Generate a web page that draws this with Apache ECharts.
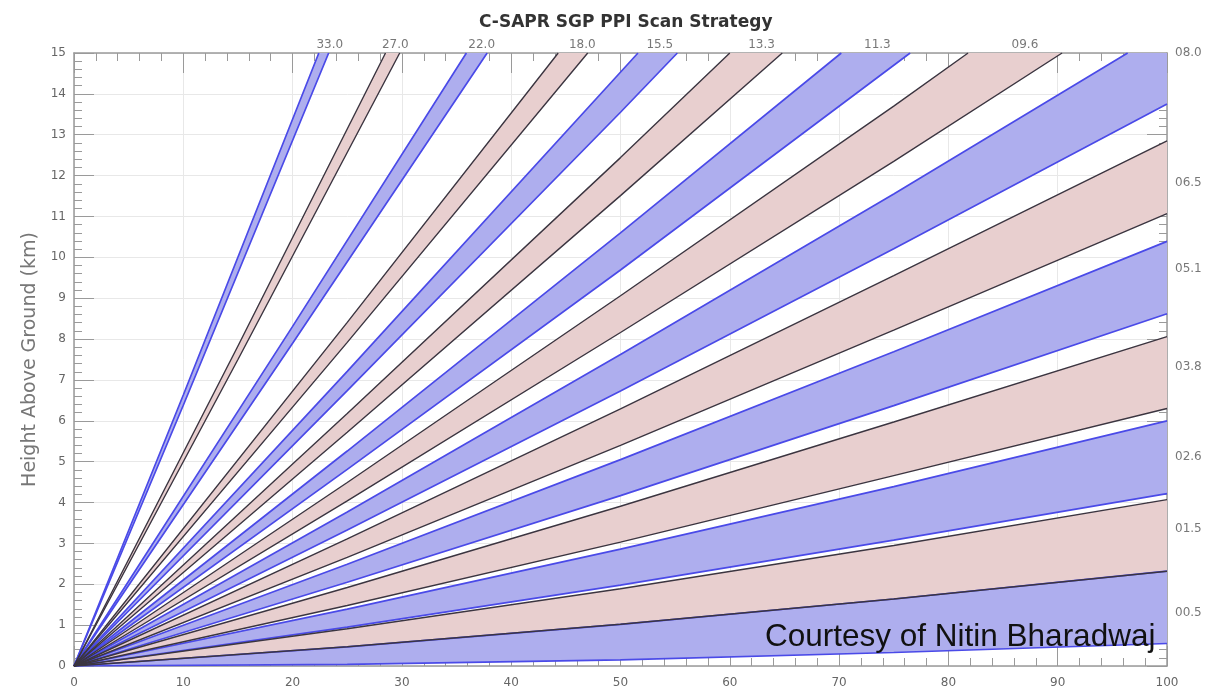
<!DOCTYPE html>
<html>
<head>
<meta charset="utf-8">
<script src="https://cdn.jsdelivr.net/npm/echarts@6/dist/echarts.min.js"></script>
<style>
  html, body { margin: 0; padding: 0; background: #ffffff; }
  #chart { width: 1215px; height: 694px; }
</style>
</head>
<body>
<div id="chart"></div>
<script>
// ---- Data (ground range km, height km) ----
const titleText = 'C-SAPR SGP PPI Scan Strategy';
const yAxisTitle = 'Height Above Ground (km)';
const creditText = 'Courtesy of Nitin Bharadwaj';

const beamLabels = ['00.5','01.5','02.6','03.8','05.1','06.5','08.0','09.6','11.3','13.3','15.5','18.0','22.0','27.0','33.0'];

// lower edge of each beam
const lowerEdges = [
  [[0,0],[25,0.04],[50,0.15],[75,0.33],[100,0.55]],
  [[0,0],[25,0.47],[50,1.02],[75,1.64],[100,2.32]],
  [[0,0],[25,0.95],[50,1.98],[75,3.08],[100,4.22]],
  [[0,0],[25,1.48],[50,3.03],[75,4.66],[100,6.30]],
  [[0,0],[25,2.05],[50,4.17],[75,6.37],[100,8.62]],
  [[0,0],[25,2.66],[50,5.40],[75,8.22],[100,11.07]],
  [[0,0],[25,3.33],[50,6.73],[75,10.21],[100,13.75]],
  [[0,0],[25,4.04],[50,8.16],[75,12.35],[90.4,15]],
  [[0,0],[25,4.81],[50,9.69],[76.5,15]],
  [[0,0],[25,5.72],[50,11.51],[64.8,15]],
  [[0,0],[25,6.74],[50,13.55],[55.2,15]],
  [[0,0],[25,7.92],[47.0,15]],
  [[0,0],[20,7.90],[37.8,15]],
  [[0,0],[15,7.50],[29.8,15]],
  [[0,0],[10,6.38],[23.3,15]]
];

// upper edge of each beam
const upperEdges = [
  [[0,0],[25,0.47],[50,1.02],[75,1.64],[100,2.32]],
  [[0,0],[25,0.91],[50,1.89],[75,2.95],[100,4.07]],
  [[0,0],[25,1.39],[50,2.86],[75,4.39],[100,6.00]],
  [[0,0],[25,1.92],[50,3.91],[75,5.97],[100,8.06]],
  [[0,0],[25,2.49],[50,5.05],[75,7.69],[100,10.39]],
  [[0,0],[25,3.11],[50,6.29],[75,9.55],[100,12.85]],
  [[0,0],[25,3.77],[50,7.62],[75,11.55],[96.4,15]],
  [[0,0],[25,4.49],[50,9.06],[75,13.70],[81.8,15]],
  [[0,0],[25,5.26],[50,10.60],[70.2,15]],
  [[0,0],[25,6.18],[50,12.44],[60.0,15]],
  [[0,0],[25,7.21],[51.6,15]],
  [[0,0],[25,8.41],[44.3,15]],
  [[0,0],[20,8.31],[35.9,15]],
  [[0,0],[15,7.83],[28.5,15]],
  [[0,0],[10,6.63],[22.4,15]]
];

// where each elevation label sits (range km, height km)
const labelAnchors = [
  [100,1.30],[100,3.35],[100,5.12],[100,7.32],[100,9.72],[100,11.83],[100,15],
  [87.0,15],[73.5,15],[62.9,15],[53.6,15],[46.5,15],[37.3,15],[29.4,15],[23.4,15]
];

const xTicks = { min: 0, max: 100, interval: 10 };
const yTicks = { min: 0, max: 15, interval: 1 };

// ---- Styling ----
const BLUE_FILL = '#aeaeee';
const PINK_FILL = '#e8cfcf';
const BLUE_LINE = '#4a4ae8';
const DARK_LINE = '#3b3540';
const AXIS_COLOR = '#9a9a9a';
const LABEL_COLOR = '#666';
const FONT = '"DejaVu Sans", sans-serif';

function beamPolygon(i) {
  const lo = lowerEdges[i], up = upperEdges[i];
  const pts = lo.slice();
  const L = lo[lo.length - 1], U = up[up.length - 1];
  if (L[0] === xTicks.max && U[1] === yTicks.max && U[0] < xTicks.max) {
    pts.push([xTicks.max, yTicks.max]);
  }
  return pts.concat(up.slice().reverse());
}

const chart = echarts.init(document.getElementById('chart'), null, { renderer: 'canvas' });

const axisCommon = (isX, pos, showLabels) => ({
  type: 'value',
  position: pos,
  min: isX ? xTicks.min : yTicks.min,
  max: isX ? xTicks.max : yTicks.max,
  interval: isX ? xTicks.interval : yTicks.interval,
  axisLine: { show: true, onZero: false, lineStyle: { color: AXIS_COLOR, width: 1.5 } },
  axisTick: { show: true, inside: true, length: 20, lineStyle: { color: AXIS_COLOR, width: 1 } },
  minorTick: { show: true, splitNumber: 5, length: 8, lineStyle: { color: AXIS_COLOR, width: 1 } },
  splitLine: { show: showLabels, lineStyle: { color: '#e8e8e8', width: 1 } },
  minorSplitLine: { show: false },
  axisLabel: {
    show: showLabels, color: LABEL_COLOR, fontFamily: FONT, fontSize: 12,
    margin: isX ? 11 : 8
  }
});

const xBottom = axisCommon(true, 'bottom', true);
const xTop = axisCommon(true, 'top', false);
const yLeft = Object.assign(axisCommon(false, 'left', true), {
  name: yAxisTitle,
  nameLocation: 'middle',
  nameRotate: 90,
  nameGap: 33,
  nameTextStyle: { color: '#777', fontFamily: FONT, fontSize: 19 }
});
const yRight = axisCommon(false, 'right', false);

const series = [];

series.push({
  type: 'custom',
  xAxisIndex: 0, yAxisIndex: 0,
  data: beamLabels.map((_, i) => [i, 0]),
  renderItem: function (params, api) {
    const i = params.dataIndex;
    const pts = beamPolygon(i).map(p => api.coord(p));
    return {
      type: 'polygon',
      shape: { points: pts },
      style: { fill: i % 2 === 0 ? BLUE_FILL : PINK_FILL, stroke: null }
    };
  },
  silent: true,
  z: 1
});

beamLabels.forEach((lab, i) => {
  const isBlue = i % 2 === 0;
  [lowerEdges[i], upperEdges[i]].forEach(edge => {
    series.push({
      type: 'line',
      xAxisIndex: 0, yAxisIndex: 0,
      data: edge,
      symbol: 'none',
      smooth: false,
      silent: true,
      z: isBlue ? 2 : 3,
      lineStyle: { color: isBlue ? BLUE_LINE : DARK_LINE, width: isBlue ? 1.7 : 1.4 }
    });
  });
});

series.push({
  type: 'scatter',
  xAxisIndex: 0, yAxisIndex: 0,
  clip: false,
  symbolSize: 0,
  silent: true,
  z: 5,
  data: labelAnchors.map((p, i) => ({
    value: p,
    label: {
      show: true,
      formatter: beamLabels[i],
      position: p[0] === xTicks.max ? 'right' : 'top',
      distance: p[0] === xTicks.max ? 8 : 2,
      color: '#555',
      fontFamily: FONT,
      fontSize: 12
    }
  }))
});

chart.setOption({
  animation: false,
  backgroundColor: '#ffffff',
  title: {
    text: titleText,
    left: 474,
    top: 9,
    textStyle: { fontFamily: FONT, fontSize: 17, fontWeight: 'bold', color: '#333' }
  },
  grid: { left: 74, right: 48, top: 53, bottom: 28, containLabel: false },
  xAxis: [xBottom, xTop],
  yAxis: [yLeft, yRight],
  series: series,
  graphic: [{
    type: 'text',
    x: 765,
    y: 637,
    z: 100,
    style: {
      text: creditText,
      font: '31.5px "Liberation Sans", Arial, sans-serif',
      fill: '#111',
      verticalAlign: 'middle'
    }
  }]
});
</script>
</body>
</html>
